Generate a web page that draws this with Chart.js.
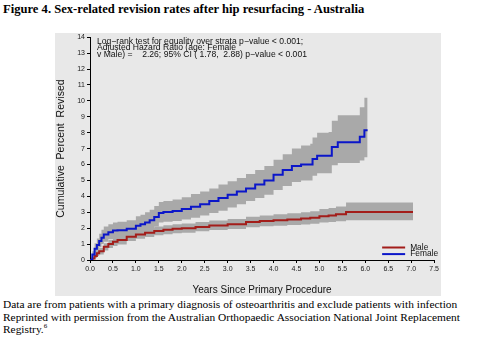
<!DOCTYPE html>
<html>
<head>
<meta charset="utf-8">
<script src="https://cdn.jsdelivr.net/npm/chart.js@4"></script>
<style>
  body { margin: 0; background: #fff; width: 482px; height: 339px; position: relative; overflow: hidden; }
  #title { position: absolute; left: 3px; top: 2px; font: bold 12.6px "Liberation Serif", serif; color: #000; white-space: nowrap; }
  #panel { position: absolute; left: 55px; top: 33px; width: 386px; height: 263px; background: #e8e8e8; }
  #wrap { position: absolute; left: 55px; top: 31px; width: 386px; height: 265px; }
  #caption { position: absolute; left: 3px; top: 298px; font: 11.4px "Liberation Serif", serif; line-height: 12.5px; color: #000; white-space: nowrap; }
  #caption sup { font-size: 7px; vertical-align: 5px; line-height: 0; }
</style>
</head>
<body>
<div id="title">Figure 4. Sex-related revision rates after hip resurfacing - Australia</div>
<div id="panel"></div>
<div id="wrap"><canvas id="chart" width="386" height="265"></canvas></div>
<div id="caption">Data are from patients with a primary diagnosis of osteoarthritis and exclude patients with infection<br>Reprinted with permission from the Australian Orthopaedic Association National Joint Replacement<br>Registry.<sup>6</sup></div>
<script>
// Female (blue) curve
const femaleYears = [0, 0.05, 0.1, 0.15, 0.2, 0.25, 0.3, 0.4, 0.5, 0.6, 0.8, 1.0, 1.1, 1.2, 1.3, 1.4, 1.5, 1.6, 1.8, 2.0, 2.2, 2.4, 2.6, 2.8, 3.0, 3.2, 3.4, 3.6, 3.8, 4.0, 4.2, 4.4, 4.6, 4.8, 4.85, 4.95, 5.2, 5.27, 5.4, 5.88, 5.98, 6.05]
const femaleRate = [0, 0.35, 0.7, 0.95, 1.2, 1.4, 1.6, 1.75, 1.85, 1.87, 1.97, 2.15, 2.25, 2.35, 2.5, 2.7, 2.95, 3.02, 3.08, 3.2, 3.35, 3.5, 3.7, 3.9, 4.1, 4.3, 4.5, 4.75, 5.0, 5.35, 5.65, 5.9, 6.0, 6.0, 6.35, 6.55, 6.55, 7.1, 7.4, 7.75, 8.15, 8.15]
const femaleUpper = [0, 0.55, 1.05, 1.35, 1.65, 1.9, 2.1, 2.25, 2.35, 2.4, 2.5, 2.75, 2.85, 3.0, 3.15, 3.4, 3.65, 3.7, 3.8, 3.95, 4.15, 4.3, 4.5, 4.75, 4.95, 5.15, 5.4, 5.65, 5.9, 6.3, 6.65, 7.0, 7.2, 7.3, 7.7, 8.0, 8.05, 8.75, 9.1, 9.6, 10.2, 10.2]
const femaleLower = [0, 0.15, 0.4, 0.6, 0.8, 1.0, 1.15, 1.3, 1.35, 1.37, 1.5, 1.65, 1.75, 1.85, 1.95, 2.1, 2.35, 2.4, 2.45, 2.55, 2.65, 2.8, 2.95, 3.1, 3.3, 3.5, 3.7, 3.9, 4.1, 4.4, 4.65, 4.9, 5.0, 5.0, 5.3, 5.45, 5.45, 5.95, 6.1, 6.25, 6.45, 6.45]

// Male (red) curve
const maleYears = [0, 0.05, 0.1, 0.15, 0.2, 0.3, 0.4, 0.5, 0.6, 0.8, 1.0, 1.2, 1.4, 1.6, 1.8, 2.0, 2.3, 2.6, 3.0, 3.4, 3.7, 4.0, 4.3, 4.6, 4.8, 5.0, 5.2, 5.36, 5.58, 7.04]
const maleRate = [0, 0.1, 0.25, 0.42, 0.55, 0.83, 1.0, 1.14, 1.25, 1.46, 1.6, 1.72, 1.82, 1.9, 1.96, 2.0, 2.08, 2.17, 2.25, 2.38, 2.45, 2.5, 2.55, 2.6, 2.65, 2.75, 2.8, 2.87, 3.02, 3.02]
const maleUpper = [0, 0.2, 0.4, 0.6, 0.75, 1.05, 1.25, 1.4, 1.5, 1.72, 1.87, 2.0, 2.1, 2.18, 2.25, 2.3, 2.38, 2.48, 2.57, 2.72, 2.8, 2.87, 2.93, 3.0, 3.07, 3.2, 3.27, 3.36, 3.62, 3.62]
const maleLower = [0, 0.03, 0.12, 0.25, 0.35, 0.6, 0.75, 0.88, 0.98, 1.2, 1.33, 1.45, 1.55, 1.62, 1.68, 1.72, 1.8, 1.88, 1.95, 2.06, 2.12, 2.15, 2.2, 2.23, 2.27, 2.35, 2.38, 2.44, 2.5, 2.5]

const statsText = [
    'Log\u2212rank test for equality over strata p\u2212value < 0.001;',
    'Adjusted Hazard Ratio (age: Female',
    'v Male) =    2.26; 95% CI ( 1.78,  2.88) p\u2212value < 0.001'
]
const legendLabels = ['Male', 'Female']

const maleColor = '#a31d1a'
const femaleColor = '#0b16c9'
const bandColor = '#a9a9a9'

function toPoints(xs, ys) {
    let pts = []
    for (let i = 0; i < xs.length; i++) {
        pts.push({x: xs[i], y: ys[i]})
    }
    return pts
}

function line(data, color) {
    return {data: data, borderColor: color, borderWidth: 2, pointRadius: 0, stepped: true, fill: false}
}

function band(data, fillTo) {
    return {data: data, borderWidth: 0, borderColor: 'rgba(0,0,0,0)', backgroundColor: bandColor,
        pointRadius: 0, stepped: true, fill: fillTo}
}

const tickFont = {family: 'Liberation Sans', size: 7}

const overlay = {
    id: 'overlay',
    afterDraw(chart) {
        const ctx = chart.ctx
        const area = chart.chartArea
        ctx.save()
        ctx.fillStyle = '#111'
        ctx.font = '8.6px "Liberation Sans"'
        ctx.textBaseline = 'middle'
        for (let i = 0; i < statsText.length; i++) {
            ctx.fillText(statsText[i], area.left + 7, area.top + 4 + i * 6.8)
        }
        // legend, bottom right
        const colors = [maleColor, femaleColor]
        ctx.font = '8.4px "Liberation Sans"'
        for (let i = 0; i < legendLabels.length; i++) {
            const y = area.bottom - 12.5 + i * 6.6
            ctx.strokeStyle = colors[i]
            ctx.lineWidth = 2
            ctx.beginPath()
            ctx.moveTo(area.right - 52, y)
            ctx.lineTo(area.right - 29, y)
            ctx.stroke()
            ctx.fillText(legendLabels[i], area.right - 24, y)
        }
        ctx.restore()
    }
}

const chart = new Chart(document.getElementById('chart'), {
    type: 'line',
    data: {
        datasets: [
            line(toPoints(femaleYears, femaleRate), femaleColor),
            line(toPoints(maleYears, maleRate), maleColor),
            band(toPoints(femaleYears, femaleUpper), 3),
            band(toPoints(femaleYears, femaleLower), false),
            band(toPoints(maleYears, maleUpper), 5),
            band(toPoints(maleYears, maleLower), false)
        ]
    },
    options: {
        responsive: false,
        animation: false,
        layout: {padding: {left: 0, right: 3, top: 0, bottom: 0}},
        plugins: {legend: {display: false}, tooltip: {enabled: false}},
        scales: {
            x: {
                type: 'linear',
                min: 0,
                max: 7.5,
                ticks: {stepSize: 0.5, font: tickFont, color: '#222', padding: 2, maxRotation: 0,
                    callback: v => v.toFixed(1)},
                grid: {drawOnChartArea: false, drawTicks: true, tickLength: 3, color: '#000'},
                border: {display: true, color: '#000', width: 1},
                title: {display: true, text: 'Years Since Primary Procedure', color: '#111',
                    font: {family: 'Liberation Sans', size: 10}, padding: {top: 4, bottom: 0}},
                afterFit: s => { s.height = 36 }
            },
            y: {
                min: 0,
                max: 14,
                ticks: {stepSize: 1, font: tickFont, color: '#222', padding: 2},
                grid: {drawOnChartArea: false, drawTicks: true, tickLength: 3, color: '#000'},
                border: {display: true, color: '#000', width: 1},
                title: {display: true, text: 'Cumulative  Percent  Revised', color: '#111',
                    font: {family: 'Liberation Sans', size: 10.5}, padding: {top: 0, bottom: 6}},
                afterFit: s => { s.width = 35 }
            }
        }
    },
    plugins: [overlay]
})
</script>
</body>
</html>
